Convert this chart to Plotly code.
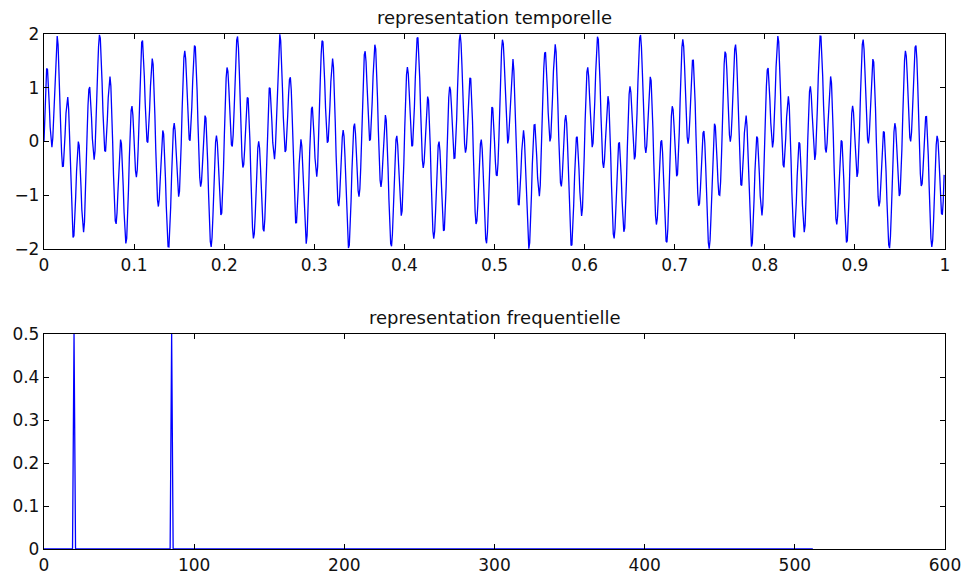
import numpy as np
import plotly.graph_objects as go
from plotly.subplots import make_subplots

# ---- data (signal components) ----
sample_rate = 1024           # samples per second
n_samples = 1024             # 1 second of signal
component_freqs = [20, 85]   # Hz
component_amps = [1.0, 1.0]

titles = ["representation temporelle", "representation frequentielle"]
time_ticks = [0, 0.1, 0.2, 0.3, 0.4, 0.5, 0.6, 0.7, 0.8, 0.9, 1]
time_yticks = [-2, -1, 0, 1, 2]
freq_ticks = [0, 100, 200, 300, 400, 500, 600]
freq_yticks = [0, 0.1, 0.2, 0.3, 0.4, 0.5]

t = np.arange(n_samples) / sample_rate
signal = np.zeros(n_samples)
for f, a in zip(component_freqs, component_amps):
    signal = signal + a * np.sin(2 * np.pi * f * t)

spectrum = np.abs(np.fft.fft(signal)) / n_samples
freqs = np.arange(n_samples) * sample_rate / n_samples
half = n_samples // 2 + 1

FONT = "DejaVu Sans, Liberation Sans, Arial"

fig = make_subplots(rows=2, cols=1)
fig.add_trace(go.Scatter(x=t, y=signal, mode="lines",
                         line=dict(color="#0000ff", width=1.3)), row=1, col=1)
fig.add_trace(go.Scatter(x=freqs[:half], y=spectrum[:half], mode="lines",
                         line=dict(color="#0000ff", width=1.3)), row=2, col=1)

axis_common = dict(showline=True, linecolor="black", linewidth=1.3, mirror="ticks",
                   ticks="inside", ticklen=5, tickcolor="black", showgrid=False,
                   zeroline=False, automargin=False,
                   tickfont=dict(family=FONT, size=17, color="#111111"))

H_PLOT = 574 - 34 - 25
top_dom = [(549 - 249) / H_PLOT, 1.0]
bot_dom = [0.0, (549 - 334) / H_PLOT]

fig.update_xaxes(range=[0, 1], tickvals=time_ticks, domain=[0, 1], **axis_common, row=1, col=1)
fig.update_yaxes(range=[-2, 2], tickvals=time_yticks, domain=top_dom, **axis_common, row=1, col=1)
fig.update_xaxes(range=[0, 600], tickvals=freq_ticks, domain=[0, 1], **axis_common, row=2, col=1)
fig.update_yaxes(range=[0, 0.5], tickvals=freq_yticks, domain=bot_dom, **axis_common, row=2, col=1)

fig.add_annotation(text=titles[0], x=0.5, y=top_dom[1], xref="paper", yref="paper",
                   xanchor="center", yanchor="bottom", yshift=4, showarrow=False,
                   font=dict(family=FONT, size=18, color="#111111"))
fig.add_annotation(text=titles[1], x=0.5, y=bot_dom[1], xref="paper", yref="paper",
                   xanchor="center", yanchor="bottom", yshift=4, showarrow=False,
                   font=dict(family=FONT, size=18, color="#111111"))

fig.update_layout(width=963, height=574, showlegend=False,
                  margin=dict(l=44, r=18, t=34, b=25),
                  paper_bgcolor="white", plot_bgcolor="white")

fig.write_html("out.html", config={"displayModeBar": False},
               post_script="document.body.style.margin='0';document.body.style.overflow='hidden';")
